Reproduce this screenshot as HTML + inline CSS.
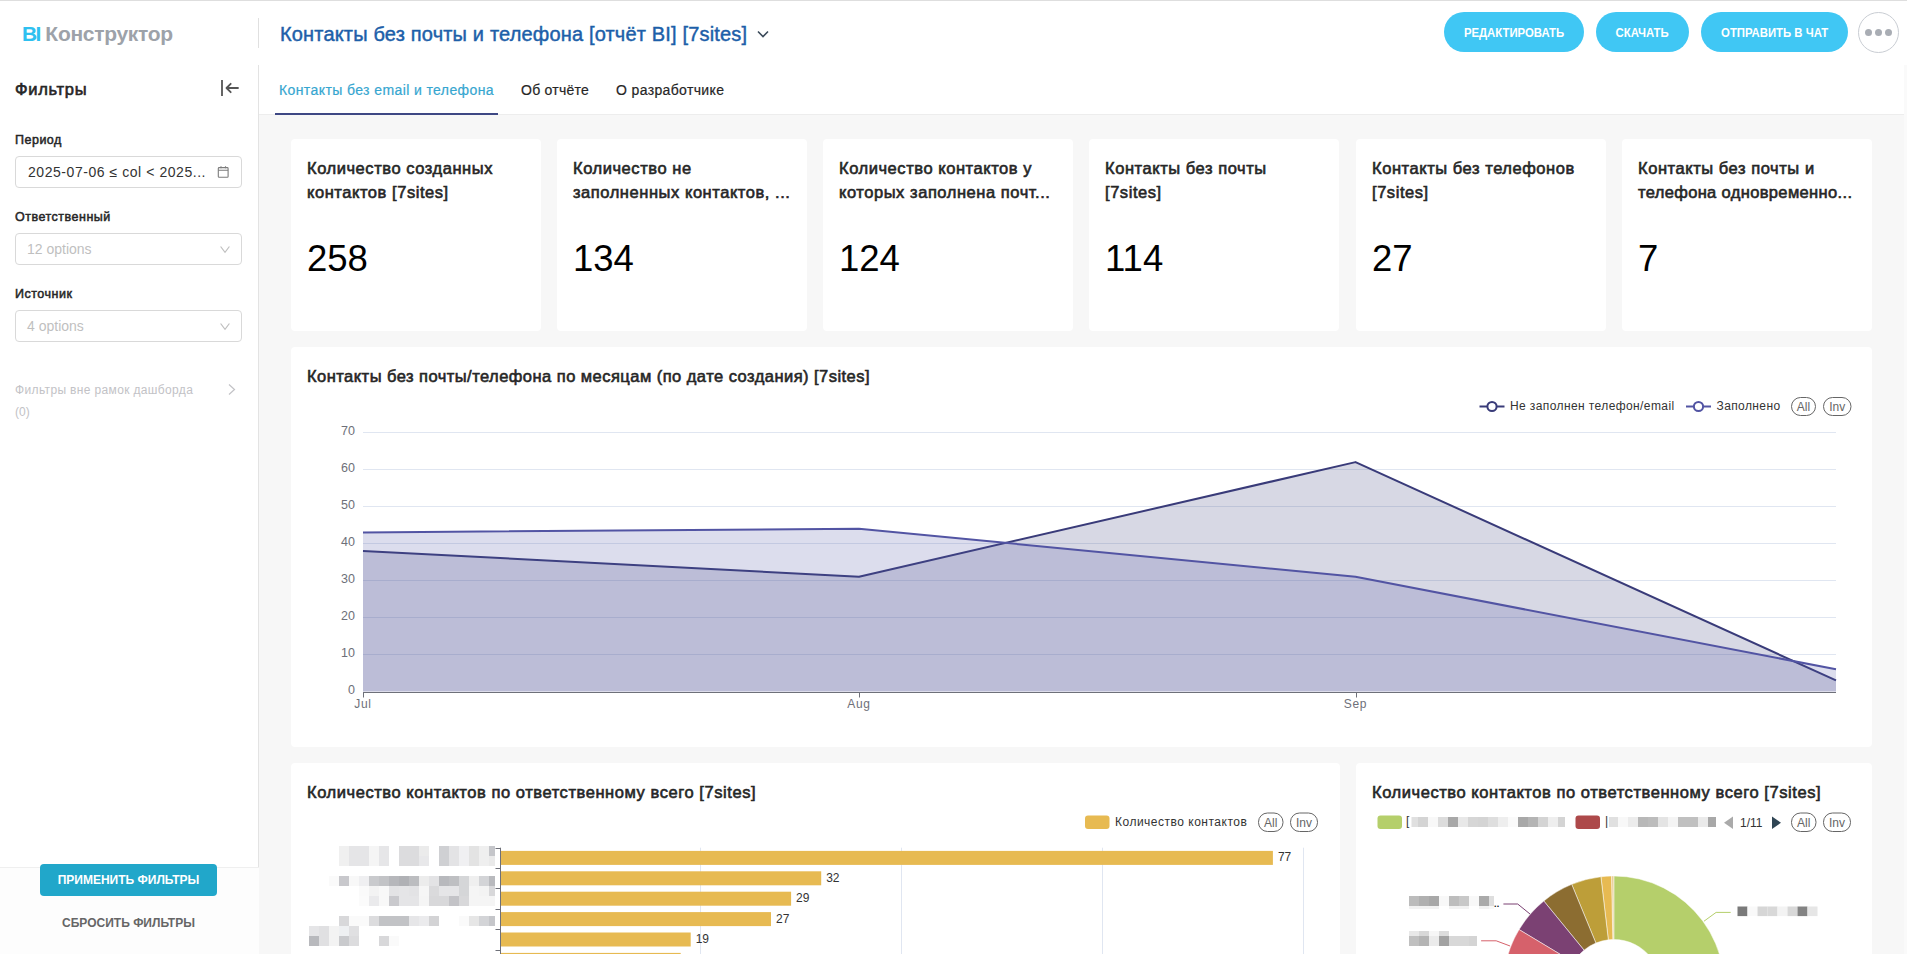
<!DOCTYPE html>
<html lang="ru">
<head>
<meta charset="utf-8">
<title>BI Конструктор</title>
<style>
*{box-sizing:border-box;margin:0;padding:0}
html,body{width:1907px;height:956px;overflow:hidden;background:#fff}
body{position:relative;font-family:"Liberation Sans","Noto Sans CJK SC",sans-serif;color:#1f1f1f}
.abs{position:absolute}
.t{position:absolute;white-space:nowrap;line-height:1}
#topline{left:0;top:0;width:1907px;height:1px;background:#dedede}
/* header */
.logo{left:22px;top:23px;font-size:21px;font-weight:700;letter-spacing:-0.3px}
.logo .bi{color:#2ec0f0;letter-spacing:-1.6px}
.logo .k{color:#9da2a9}
#hdiv{left:258px;top:18px;width:1px;height:30px;background:#e0e0e0}
.title{left:280px;top:24px;font-size:20px;color:#1d5fa9;letter-spacing:0.17px;-webkit-text-stroke:0.45px #1d5fa9}
.pill{position:absolute;top:12px;height:40px;border-radius:20px;background:#40c7f4;color:#fff;font-weight:700;font-size:12px;text-align:center;line-height:42px;letter-spacing:0}
.pill span{display:inline-block;transform:scaleX(0.945);transform-origin:50% 50%}
#more{left:1858px;top:12px;width:41px;height:41px;border:1px solid #c9cdd3;border-radius:50%}
#more i{position:absolute;top:16px;width:7px;height:7px;border-radius:50%;background:#a9adb4}
/* sidebar */
#side{left:0;top:65px;width:259px;height:891px;border-right:1px solid #e3e3e3;background:#fff}
.lbl{font-size:12.5px;font-weight:400;color:#262626;-webkit-text-stroke:0.5px #262626;letter-spacing:0.5px}
.box{position:absolute;left:15px;width:227px;height:32px;border:1px solid #d9d9d9;border-radius:4px;background:#fff}
/* main */
#tabs{left:259px;top:65px;width:1645px;height:49px;background:#fff}
#content{left:259px;top:114px;width:1645px;height:842px;background:#f7f7f7;border-top:1px solid #ededed}
#scroll{left:1904px;top:65px;width:3px;height:891px;background:#fafafa}
.card{position:absolute;background:#fff;border-radius:4px}
.kt{position:absolute;left:16px;top:17px;font-size:16.5px;line-height:24px;color:#262626;font-weight:400;-webkit-text-stroke:0.6px #262626;letter-spacing:0.55px;white-space:nowrap}
.kv{position:absolute;left:16px;top:102px;font-size:36.5px;line-height:1;color:#000;white-space:nowrap}
.ct{position:absolute;left:16px;font-size:16.5px;font-weight:400;color:#262626;-webkit-text-stroke:0.6px #262626;letter-spacing:0.3px;white-space:nowrap;line-height:1}
svg text{font-family:"Liberation Sans","Noto Sans CJK SC",sans-serif}
</style>
</head>
<body>
<div class="abs" id="topline"></div>

<!-- HEADER -->
<div class="t logo"><span class="bi">BI</span> <span class="k">Конструктор</span></div>
<div class="abs" id="hdiv"></div>
<div class="t title">Контакты без почты и телефона [отчёт BI] [7sites]</div>
<svg class="abs" style="left:756px;top:28px" width="14" height="12" viewBox="0 0 14 12"><path d="M2 3.5 L7 8.5 L12 3.5" fill="none" stroke="#3b4a5a" stroke-width="1.6"/></svg>
<div class="pill" style="left:1444px;width:140px"><span>РЕДАКТИРОВАТЬ</span></div>
<div class="pill" style="left:1596px;width:93px"><span>СКАЧАТЬ</span></div>
<div class="pill" style="left:1701px;width:147px"><span>ОТПРАВИТЬ В ЧАТ</span></div>
<div class="abs" id="more"><i style="left:6px"></i><i style="left:16px"></i><i style="left:25.7px"></i></div>

<!-- SIDEBAR -->
<div class="abs" id="side"></div>
<div class="t" style="left:15px;top:80.5px;font-size:16.5px;font-weight:400;color:#262626;-webkit-text-stroke:0.6px #262626;letter-spacing:0.7px">Фильтры</div>
<svg class="abs" style="left:219px;top:79px" width="22" height="18" viewBox="0 0 22 18"><path d="M3 1 V17" stroke="#555" stroke-width="1.8" fill="none"/><path d="M19 9 H7.8 M11.7 4.8 L7.5 9 L11.7 13.2" stroke="#555" stroke-width="1.8" fill="none" stroke-linejoin="round" stroke-linecap="round"/></svg>

<div class="t lbl" style="left:15px;top:133.5px">Период</div>
<div class="box" style="top:156px"></div>
<div class="t" style="left:28px;top:165px;font-size:14px;color:#333;letter-spacing:0.55px">2025-07-06 ≤ col &lt; 2025...</div>
<svg class="abs" style="left:216px;top:165px" width="14" height="14" viewBox="0 0 14 14"><rect x="2.3" y="2.6" width="9.8" height="9.6" rx="0.8" fill="none" stroke="#7c7c7c" stroke-width="1.1"/><path d="M2.3 5.3 H12.1 M5 1.3 V3.3 M9.5 1.3 V3.3" stroke="#7c7c7c" stroke-width="1.1"/></svg>

<div class="t lbl" style="left:15px;top:210.5px">Ответственный</div>
<div class="box" style="top:233px"></div>
<div class="t" style="left:27px;top:242px;font-size:14px;color:#bfbfbf">12 options</div>
<svg class="abs" style="left:219px;top:245px" width="12" height="9" viewBox="0 0 12 9"><path d="M1.6 1.5 L6 7.3 L10.4 1.5" fill="none" stroke="#bfbfbf" stroke-width="1.2"/></svg>

<div class="t lbl" style="left:15px;top:287.5px">Источник</div>
<div class="box" style="top:310px"></div>
<div class="t" style="left:27px;top:319px;font-size:14px;color:#bfbfbf">4 options</div>
<svg class="abs" style="left:219px;top:322px" width="12" height="9" viewBox="0 0 12 9"><path d="M1.6 1.5 L6 7.3 L10.4 1.5" fill="none" stroke="#bfbfbf" stroke-width="1.2"/></svg>

<div class="t" style="left:15px;top:384px;font-size:12px;color:#c2c2c6;letter-spacing:0.35px">Фильтры вне рамок дашборда</div>
<div class="t" style="left:15px;top:406px;font-size:12px;color:#c2c2c6">(0)</div>
<svg class="abs" style="left:227px;top:383px" width="10" height="13" viewBox="0 0 10 13"><path d="M2 1.5 L7.5 6.5 L2 11.5" fill="none" stroke="#c2c2c6" stroke-width="1.2"/></svg>

<div class="abs" style="left:0;top:867px;width:259px;height:89px;background:#fdfdfd;border-top:1px solid #efefef"></div>
<div class="abs" style="left:40px;top:864px;width:177px;height:32px;border-radius:4px;background:#21a7ca"></div>
<div class="t" style="left:40px;top:874px;width:177px;text-align:center;font-size:12px;font-weight:700;color:#fff">ПРИМЕНИТЬ ФИЛЬТРЫ</div>
<div class="t" style="left:40px;top:917px;width:177px;text-align:center;font-size:12px;font-weight:700;color:#666">СБРОСИТЬ ФИЛЬТРЫ</div>

<!-- TABS -->
<div class="abs" id="tabs"></div>
<div class="t" style="left:279px;top:83px;font-size:14px;color:#36a6d0;letter-spacing:0.4px;-webkit-text-stroke:0.2px #36a6d0">Контакты без email и телефона</div>
<div class="t" style="left:521px;top:83px;font-size:14px;color:#262626;letter-spacing:0.25px;-webkit-text-stroke:0.2px #262626">Об отчёте</div>
<div class="t" style="left:616px;top:83px;font-size:14px;color:#262626;letter-spacing:0.36px;-webkit-text-stroke:0.2px #262626">О разработчике</div>

<!-- CONTENT -->
<div class="abs" id="content"></div>
<div class="abs" id="scroll"></div>
<div class="abs" style="left:275px;top:113px;width:223px;height:2px;background:#3e4884"></div>

<!-- KPI -->
<div class="card" style="left:291px;top:139px;width:250px;height:192px"><div class="kt">Количество созданных<br>контактов [7sites]</div><div class="kv">258</div></div>
<div class="card" style="left:557px;top:139px;width:250px;height:192px"><div class="kt">Количество не<br>заполненных контактов, ...</div><div class="kv">134</div></div>
<div class="card" style="left:823px;top:139px;width:250px;height:192px"><div class="kt">Количество контактов у<br>которых заполнена почт...</div><div class="kv">124</div></div>
<div class="card" style="left:1089px;top:139px;width:250px;height:192px"><div class="kt">Контакты без почты<br>[7sites]</div><div class="kv">114</div></div>
<div class="card" style="left:1356px;top:139px;width:250px;height:192px"><div class="kt">Контакты без телефонов<br>[7sites]</div><div class="kv">27</div></div>
<div class="card" style="left:1622px;top:139px;width:250px;height:192px"><div class="kt">Контакты без почты и<br><span style="letter-spacing:0.35px">телефона одновременно...</span></div><div class="kv">7</div></div>

<!-- LINE CHART CARD -->
<div class="card" style="left:291px;top:347px;width:1581px;height:400px">
  <div class="ct" style="top:21px;letter-spacing:0.46px">Контакты без почты/телефона по месяцам (по дате создания) [7sites]</div>
</div>
<svg class="abs" style="left:291px;top:347px" width="1580" height="400" viewBox="291 347 1580 400">
<text x="355" y="693.7" text-anchor="end" font-size="12.5" fill="#6E7079">0</text>
<line x1="363" x2="1836" y1="654.5" y2="654.5" stroke="#E0E6F1" stroke-width="1"/>
<text x="355" y="656.7" text-anchor="end" font-size="12.5" fill="#6E7079">10</text>
<line x1="363" x2="1836" y1="617.5" y2="617.5" stroke="#E0E6F1" stroke-width="1"/>
<text x="355" y="619.7" text-anchor="end" font-size="12.5" fill="#6E7079">20</text>
<line x1="363" x2="1836" y1="580.5" y2="580.5" stroke="#E0E6F1" stroke-width="1"/>
<text x="355" y="582.7" text-anchor="end" font-size="12.5" fill="#6E7079">30</text>
<line x1="363" x2="1836" y1="543.5" y2="543.5" stroke="#E0E6F1" stroke-width="1"/>
<text x="355" y="545.7" text-anchor="end" font-size="12.5" fill="#6E7079">40</text>
<line x1="363" x2="1836" y1="506.5" y2="506.5" stroke="#E0E6F1" stroke-width="1"/>
<text x="355" y="508.7" text-anchor="end" font-size="12.5" fill="#6E7079">50</text>
<line x1="363" x2="1836" y1="469.5" y2="469.5" stroke="#E0E6F1" stroke-width="1"/>
<text x="355" y="471.7" text-anchor="end" font-size="12.5" fill="#6E7079">60</text>
<line x1="363" x2="1836" y1="432.5" y2="432.5" stroke="#E0E6F1" stroke-width="1"/>
<text x="355" y="434.7" text-anchor="end" font-size="12.5" fill="#6E7079">70</text>
<polygon points="363,691.5 363,550.9 859,576.8 1355.5,462.1 1836,680.4 1836,691.5" fill="#393b79" fill-opacity="0.2"/>
<polyline points="363,550.9 859,576.8 1355.5,462.1 1836,680.4" fill="none" stroke="#393b79" stroke-width="2" stroke-linejoin="round"/>
<polygon points="363,691.5 363,532.4 859,528.7 1355.5,576.8 1836,669.3 1836,691.5" fill="#5254a3" fill-opacity="0.2"/>
<polyline points="363,532.4 859,528.7 1355.5,576.8 1836,669.3" fill="none" stroke="#5254a3" stroke-width="2" stroke-linejoin="round"/>
<line x1="363" x2="1836" y1="692.5" y2="692.5" stroke="#6E7079" stroke-width="1"/>
<line x1="363.5" x2="363.5" y1="692.5" y2="697.5" stroke="#6E7079" stroke-width="1"/>
<text x="363" y="708" text-anchor="middle" font-size="12" letter-spacing="0.7" fill="#6E7079">Jul</text>
<line x1="859.5" x2="859.5" y1="692.5" y2="697.5" stroke="#6E7079" stroke-width="1"/>
<text x="859" y="708" text-anchor="middle" font-size="12" letter-spacing="0.7" fill="#6E7079">Aug</text>
<line x1="1356.5" x2="1356.5" y1="692.5" y2="697.5" stroke="#6E7079" stroke-width="1"/>
<text x="1355.5" y="708" text-anchor="middle" font-size="12" letter-spacing="0.7" fill="#6E7079">Sep</text>
<line x1="1479.5" x2="1504.5" y1="406.5" y2="406.5" stroke="#393b79" stroke-width="2"/>
<circle cx="1492" cy="406.5" r="4.6" fill="#fff" stroke="#393b79" stroke-width="2"/>
<text x="1510" y="409.8" font-size="12" letter-spacing="0.4" fill="#333">Не заполнен телефон/email</text>
<line x1="1686.0" x2="1711.0" y1="406.5" y2="406.5" stroke="#5254a3" stroke-width="2"/>
<circle cx="1698.5" cy="406.5" r="4.6" fill="#fff" stroke="#5254a3" stroke-width="2"/>
<text x="1716.5" y="409.8" font-size="12" letter-spacing="0.4" fill="#333">Заполнено</text>
<rect x="1791.5" y="397.5" width="24" height="18" rx="9" fill="#fff" stroke="#666" stroke-width="1"/>
<text x="1803.5" y="410.5" text-anchor="middle" font-size="12" fill="#666">All</text>
<rect x="1823.5" y="397.5" width="27.5" height="18" rx="9" fill="#fff" stroke="#666" stroke-width="1"/>
<text x="1837.25" y="410.5" text-anchor="middle" font-size="12" fill="#666">Inv</text>
</svg>

<!-- BOTTOM CARDS -->
<div class="card" style="left:291px;top:763px;width:1049px;height:200px">
  <div class="ct" style="top:20.5px;letter-spacing:0.56px">Количество контактов по ответственному всего [7sites]</div>
</div>
<svg class="abs" style="left:291px;top:763px" width="1049" height="193" viewBox="291 763 1049 193">
<line x1="700.5" x2="700.5" y1="847.7" y2="960" stroke="#E0E6F1" stroke-width="1"/>
<line x1="901.5" x2="901.5" y1="847.7" y2="960" stroke="#E0E6F1" stroke-width="1"/>
<line x1="1102.5" x2="1102.5" y1="847.7" y2="960" stroke="#E0E6F1" stroke-width="1"/>
<line x1="1303.5" x2="1303.5" y1="847.7" y2="960" stroke="#E0E6F1" stroke-width="1"/>
<rect x="500" y="850.9" width="772.9" height="14" fill="#e7ba52"/>
<text x="1277.9" y="861.3" font-size="12" fill="#333">77</text>
<rect x="500" y="871.3" width="321.2" height="14" fill="#e7ba52"/>
<text x="826.2" y="881.7" font-size="12" fill="#333">32</text>
<rect x="500" y="891.7" width="291.1" height="14" fill="#e7ba52"/>
<text x="796.1" y="902.1" font-size="12" fill="#333">29</text>
<rect x="500" y="912.1" width="271.0" height="14" fill="#e7ba52"/>
<text x="776.0" y="922.5" font-size="12" fill="#333">27</text>
<rect x="500" y="932.5" width="190.7" height="14" fill="#e7ba52"/>
<text x="695.7" y="942.9" font-size="12" fill="#333">19</text>
<rect x="500" y="952.9" width="180.7" height="14" fill="#e7ba52"/>
<line x1="500.5" x2="500.5" y1="847.7" y2="960" stroke="#6E7079" stroke-width="1"/>
<line x1="495.5" x2="500.5" y1="848.5" y2="848.5" stroke="#6E7079" stroke-width="1"/>
<line x1="495.5" x2="500.5" y1="868.5" y2="868.5" stroke="#6E7079" stroke-width="1"/>
<line x1="495.5" x2="500.5" y1="888.5" y2="888.5" stroke="#6E7079" stroke-width="1"/>
<line x1="495.5" x2="500.5" y1="909.5" y2="909.5" stroke="#6E7079" stroke-width="1"/>
<line x1="495.5" x2="500.5" y1="929.5" y2="929.5" stroke="#6E7079" stroke-width="1"/>
<line x1="495.5" x2="500.5" y1="950.5" y2="950.5" stroke="#6E7079" stroke-width="1"/>
<line x1="495.5" x2="500.5" y1="970.5" y2="970.5" stroke="#6E7079" stroke-width="1"/>
<rect x="1085" y="815.5" width="24.5" height="13.5" rx="3" fill="#e7ba52"/>
<text x="1115" y="826" font-size="12" letter-spacing="0.5" fill="#333">Количество контактов</text>
<rect x="1258.5" y="813" width="24.5" height="18.5" rx="9" fill="#fff" stroke="#666" stroke-width="1"/>
<text x="1270.75" y="826.5" text-anchor="middle" font-size="12" fill="#666">All</text>
<rect x="1290.5" y="813" width="27" height="18.5" rx="9" fill="#fff" stroke="#666" stroke-width="1"/>
<text x="1304.0" y="826.5" text-anchor="middle" font-size="12" fill="#666">Inv</text>
<rect x="339" y="846" width="10" height="10" fill="#f0f0f0"/>
<rect x="349" y="846" width="10" height="10" fill="#e5e5e7"/>
<rect x="359" y="846" width="10" height="10" fill="#e5e5e7"/>
<rect x="369" y="846" width="10" height="10" fill="#f5f5f5"/>
<rect x="379" y="846" width="10" height="10" fill="#e6e6e8"/>
<rect x="399" y="846" width="10" height="10" fill="#dcdcde"/>
<rect x="409" y="846" width="10" height="10" fill="#dcdcde"/>
<rect x="419" y="846" width="10" height="10" fill="#ebebeb"/>
<rect x="439" y="846" width="10" height="10" fill="#cfd0d3"/>
<rect x="449" y="846" width="10" height="10" fill="#e3e3e5"/>
<rect x="459" y="846" width="10" height="10" fill="#f0f0f2"/>
<rect x="469" y="846" width="10" height="10" fill="#e3e3e3"/>
<rect x="479" y="846" width="10" height="10" fill="#efefef"/>
<rect x="489" y="846" width="6" height="10" fill="#c5c6ca"/>
<rect x="339" y="856" width="10" height="10" fill="#f0f0f0"/>
<rect x="349" y="856" width="10" height="10" fill="#e5e5e7"/>
<rect x="359" y="856" width="10" height="10" fill="#e5e5e7"/>
<rect x="369" y="856" width="10" height="10" fill="#f5f5f5"/>
<rect x="379" y="856" width="10" height="10" fill="#e6e6e8"/>
<rect x="399" y="856" width="10" height="10" fill="#dcdcde"/>
<rect x="409" y="856" width="10" height="10" fill="#dcdcde"/>
<rect x="419" y="856" width="10" height="10" fill="#e8e8ea"/>
<rect x="439" y="856" width="10" height="10" fill="#cfd0d3"/>
<rect x="449" y="856" width="10" height="10" fill="#e3e3e5"/>
<rect x="459" y="856" width="10" height="10" fill="#f0f0f2"/>
<rect x="469" y="856" width="10" height="10" fill="#e3e3e3"/>
<rect x="479" y="856" width="10" height="10" fill="#efefef"/>
<rect x="489" y="856" width="6" height="10" fill="#eaeaea"/>
<rect x="329" y="876" width="10" height="10" fill="#fafafa"/>
<rect x="339" y="876" width="10" height="10" fill="#c8c8cc"/>
<rect x="349" y="876" width="10" height="10" fill="#f8f8f8"/>
<rect x="359" y="876" width="10" height="10" fill="#efeff1"/>
<rect x="369" y="876" width="10" height="10" fill="#c9cacd"/>
<rect x="379" y="876" width="10" height="10" fill="#c2c3c6"/>
<rect x="389" y="876" width="10" height="10" fill="#b6b7bb"/>
<rect x="399" y="876" width="10" height="10" fill="#b0b1b5"/>
<rect x="409" y="876" width="10" height="10" fill="#bcbdc0"/>
<rect x="419" y="876" width="10" height="10" fill="#ececec"/>
<rect x="429" y="876" width="10" height="10" fill="#e3e3e5"/>
<rect x="439" y="876" width="10" height="10" fill="#b8b9bd"/>
<rect x="449" y="876" width="10" height="10" fill="#bebfc2"/>
<rect x="459" y="876" width="10" height="10" fill="#d5d6d8"/>
<rect x="469" y="876" width="10" height="10" fill="#efefef"/>
<rect x="479" y="876" width="10" height="10" fill="#d3d4d7"/>
<rect x="489" y="876" width="6" height="10" fill="#b9babe"/>
<rect x="359" y="886" width="10" height="10" fill="#fafafa"/>
<rect x="369" y="886" width="10" height="10" fill="#f3f3f3"/>
<rect x="379" y="886" width="10" height="10" fill="#f8f8f8"/>
<rect x="389" y="886" width="10" height="10" fill="#e3e3e5"/>
<rect x="399" y="886" width="10" height="10" fill="#e5e5e7"/>
<rect x="409" y="886" width="10" height="10" fill="#e3e3e5"/>
<rect x="419" y="886" width="10" height="10" fill="#f6f6f6"/>
<rect x="429" y="886" width="10" height="10" fill="#dadadc"/>
<rect x="439" y="886" width="10" height="10" fill="#e5e5e7"/>
<rect x="449" y="886" width="10" height="10" fill="#e5e5e7"/>
<rect x="459" y="886" width="10" height="10" fill="#d5d6d8"/>
<rect x="469" y="886" width="10" height="10" fill="#f5f5f5"/>
<rect x="479" y="886" width="10" height="10" fill="#f3f3f3"/>
<rect x="489" y="886" width="6" height="10" fill="#d8d8da"/>
<rect x="359" y="896" width="10" height="10" fill="#fbfbfb"/>
<rect x="369" y="896" width="10" height="10" fill="#eaeaec"/>
<rect x="379" y="896" width="10" height="10" fill="#f8f8f8"/>
<rect x="389" y="896" width="10" height="10" fill="#c9c9cd"/>
<rect x="399" y="896" width="10" height="10" fill="#e5e5e7"/>
<rect x="409" y="896" width="10" height="10" fill="#e5e5e7"/>
<rect x="419" y="896" width="10" height="10" fill="#f5f5f5"/>
<rect x="429" y="896" width="10" height="10" fill="#d8d8da"/>
<rect x="439" y="896" width="10" height="10" fill="#d8d8da"/>
<rect x="449" y="896" width="10" height="10" fill="#c3c3c7"/>
<rect x="459" y="896" width="10" height="10" fill="#d8d8da"/>
<rect x="469" y="896" width="10" height="10" fill="#f5f5f5"/>
<rect x="479" y="896" width="10" height="10" fill="#f5f5f5"/>
<rect x="489" y="896" width="6" height="10" fill="#f5f5f5"/>
<rect x="339" y="916" width="10" height="10" fill="#d8d8da"/>
<rect x="349" y="916" width="10" height="10" fill="#fafafa"/>
<rect x="359" y="916" width="10" height="10" fill="#fafafa"/>
<rect x="369" y="916" width="10" height="10" fill="#dcdcde"/>
<rect x="379" y="916" width="10" height="10" fill="#c2c3c6"/>
<rect x="389" y="916" width="10" height="10" fill="#c2c3c6"/>
<rect x="399" y="916" width="10" height="10" fill="#c2c3c6"/>
<rect x="409" y="916" width="10" height="10" fill="#e6e6e8"/>
<rect x="419" y="916" width="10" height="10" fill="#ebebed"/>
<rect x="429" y="916" width="10" height="10" fill="#d3d3d5"/>
<rect x="459" y="916" width="10" height="10" fill="#fafafa"/>
<rect x="469" y="916" width="10" height="10" fill="#e6e6e6"/>
<rect x="479" y="916" width="10" height="10" fill="#d3d4d7"/>
<rect x="489" y="916" width="6" height="10" fill="#c5c6ca"/>
<rect x="309" y="926" width="10" height="10" fill="#e5e5e7"/>
<rect x="319" y="926" width="10" height="10" fill="#e0e0e2"/>
<rect x="329" y="926" width="10" height="10" fill="#f3f3f3"/>
<rect x="339" y="926" width="10" height="10" fill="#eef0f2"/>
<rect x="349" y="926" width="10" height="10" fill="#e0e0e2"/>
<rect x="309" y="936" width="10" height="10" fill="#b8b9bd"/>
<rect x="319" y="936" width="10" height="10" fill="#e0e0e2"/>
<rect x="329" y="936" width="10" height="10" fill="#f3f3f3"/>
<rect x="339" y="936" width="10" height="10" fill="#c9cacd"/>
<rect x="349" y="936" width="10" height="10" fill="#dcdcde"/>
<rect x="379" y="936" width="10" height="10" fill="#d8d8da"/>
<rect x="389" y="936" width="10" height="10" fill="#fafafa"/>
</svg>
<div class="card" style="left:1356px;top:763px;width:516px;height:200px">
  <div class="ct" style="top:20.5px;letter-spacing:0.56px">Количество контактов по ответственному всего [7sites]</div>
</div>

<svg class="abs" style="left:1356px;top:763px" width="515" height="193" viewBox="1356 763 515 193">
<path d="M1613.80,876.00 A110.5,110.5 0 0 1 1719.24,1019.54 L1658.65,1000.55 A47,47 0 0 0 1613.80,939.50 Z" fill="#b5cf6b" stroke="#fff" stroke-width="0.5" stroke-linejoin="round"/>
<path d="M1611.49,876.02 A110.5,110.5 0 0 1 1613.80,876.00 L1613.80,939.50 A47,47 0 0 0 1612.82,939.51 Z" fill="#e7cb94" stroke="#fff" stroke-width="0.5" stroke-linejoin="round"/>
<path d="M1600.91,876.75 A110.5,110.5 0 0 1 1611.49,876.02 L1612.82,939.51 A47,47 0 0 0 1608.32,939.82 Z" fill="#e7ba52" stroke="#fff" stroke-width="0.5" stroke-linejoin="round"/>
<path d="M1571.69,884.34 A110.5,110.5 0 0 1 1600.91,876.75 L1608.32,939.82 A47,47 0 0 0 1595.89,943.05 Z" fill="#bd9e39" stroke="#fff" stroke-width="0.5" stroke-linejoin="round"/>
<path d="M1543.81,900.99 A110.5,110.5 0 0 1 1571.69,884.34 L1595.89,943.05 A47,47 0 0 0 1584.03,950.13 Z" fill="#8c6d31" stroke="#fff" stroke-width="0.5" stroke-linejoin="round"/>
<path d="M1519.08,929.59 A110.5,110.5 0 0 1 1543.81,900.99 L1584.03,950.13 A47,47 0 0 0 1573.51,962.29 Z" fill="#7b4173" stroke="#fff" stroke-width="0.5" stroke-linejoin="round"/>
<path d="M1504.98,967.31 A110.5,110.5 0 0 1 1519.08,929.59 L1573.51,962.29 A47,47 0 0 0 1567.51,978.34 Z" fill="#d6616b" stroke="#fff" stroke-width="0.5" stroke-linejoin="round"/>
<path d="M1504.98,1005.69 A110.5,110.5 0 0 1 1504.98,967.31 L1567.51,978.34 A47,47 0 0 0 1567.51,994.66 Z" fill="#ce6dbd" stroke="#fff" stroke-width="0.5" stroke-linejoin="round"/>
<polyline points="1530,914 1517.7,904 1503.4,904" fill="none" stroke="#7b4173" stroke-width="1"/>
<polyline points="1510.1,946 1496.2,940.8 1481.1,940.8" fill="none" stroke="#d6616b" stroke-width="1"/>
<polyline points="1704,921.2 1716.1,912.4 1730.7,912.4" fill="none" stroke="#b5cf6b" stroke-width="1"/>
<rect x="1377.5" y="815.5" width="24.5" height="13.5" rx="3" fill="#b5cf6b"/>
<rect x="1575.5" y="815.5" width="24.5" height="13.5" rx="3" fill="#ad494a"/>
<text x="1406" y="825.3" font-size="12" fill="#333">[</text>
<text x="1605" y="825.3" font-size="12" fill="#333">|</text>
<path d="M1733,816.5 L1724,822.8 L1733,829 Z" fill="#aaa"/>
<text x="1740" y="827" font-size="12" fill="#333">1/11</text>
<path d="M1772,816.5 L1781,822.8 L1772,829 Z" fill="#2f4554"/>
<rect x="1791.5" y="813" width="24.5" height="18.5" rx="9" fill="#fff" stroke="#666" stroke-width="1"/>
<text x="1803.75" y="826.5" text-anchor="middle" font-size="12" fill="#666">All</text>
<rect x="1823.5" y="813" width="27" height="18.5" rx="9" fill="#fff" stroke="#666" stroke-width="1"/>
<text x="1837.0" y="826.5" text-anchor="middle" font-size="12" fill="#666">Inv</text>
<rect x="1411.5" y="817" width="6.5" height="10" fill="#e0e0e0"/>
<rect x="1418" y="817" width="10" height="10" fill="#d4d4d4"/>
<rect x="1428" y="817" width="10" height="10" fill="#f8f8f8"/>
<rect x="1438" y="817" width="10" height="10" fill="#dcdcdc"/>
<rect x="1448" y="817" width="10" height="10" fill="#a8a8a8"/>
<rect x="1458" y="817" width="10" height="10" fill="#e8e8e8"/>
<rect x="1468" y="817" width="10" height="10" fill="#d6d6d6"/>
<rect x="1478" y="817" width="10" height="10" fill="#d4d4d4"/>
<rect x="1488" y="817" width="10" height="10" fill="#dedede"/>
<rect x="1498" y="817" width="10" height="10" fill="#eeeeee"/>
<rect x="1508" y="817" width="10" height="10" fill="#fafafa"/>
<rect x="1518" y="817" width="10" height="10" fill="#a8a8a8"/>
<rect x="1528" y="817" width="10" height="10" fill="#b4b4b4"/>
<rect x="1538" y="817" width="10" height="10" fill="#d4d4d4"/>
<rect x="1548" y="817" width="10" height="10" fill="#eeeeee"/>
<rect x="1558" y="817" width="7" height="10" fill="#d4d4d4"/>
<rect x="1609" y="817" width="9" height="10" fill="#e0e0e0"/>
<rect x="1618" y="817" width="10" height="10" fill="#f8f8f8"/>
<rect x="1628" y="817" width="10" height="10" fill="#ececec"/>
<rect x="1638" y="817" width="10" height="10" fill="#b8b8b8"/>
<rect x="1648" y="817" width="10" height="10" fill="#bcbcbc"/>
<rect x="1658" y="817" width="10" height="10" fill="#e4e4e4"/>
<rect x="1668" y="817" width="10" height="10" fill="#f4f4f4"/>
<rect x="1678" y="817" width="10" height="10" fill="#c0c0c0"/>
<rect x="1688" y="817" width="10" height="10" fill="#c0c0c0"/>
<rect x="1698" y="817" width="10" height="10" fill="#eaeaea"/>
<rect x="1708" y="817" width="8" height="10" fill="#a8a8a8"/>
<rect x="1409" y="896" width="10" height="10" fill="#bcbcbc"/>
<rect x="1419" y="896" width="10" height="10" fill="#b0b0b0"/>
<rect x="1429" y="896" width="10" height="10" fill="#a8a8a8"/>
<rect x="1439" y="896" width="10" height="10" fill="#f8f8f8"/>
<rect x="1449" y="896" width="10" height="10" fill="#bdbdbd"/>
<rect x="1459" y="896" width="10" height="10" fill="#c8c8c8"/>
<rect x="1469" y="896" width="10" height="10" fill="#f8f8f8"/>
<rect x="1479" y="896" width="10" height="10" fill="#aaaaaa"/>
<rect x="1489" y="896" width="5" height="10" fill="#dedede"/>
<rect x="1409" y="906" width="10" height="3" fill="#f2f2f2"/>
<rect x="1419" y="906" width="10" height="3" fill="#f2f2f2"/>
<rect x="1429" y="906" width="10" height="3" fill="#f2f2f2"/>
<rect x="1449" y="906" width="10" height="3" fill="#f2f2f2"/>
<rect x="1459" y="906" width="10" height="3" fill="#f2f2f2"/>
<rect x="1479" y="906" width="10" height="3" fill="#f2f2f2"/>
<rect x="1489" y="906" width="5" height="3" fill="#f8f8f8"/>
<text x="1494" y="906.5" font-size="9" font-weight="700" fill="#111" letter-spacing="0.3">..</text>
<rect x="1409" y="931" width="10" height="5" fill="#e8e8e8"/>
<rect x="1419" y="931" width="10" height="5" fill="#d8d8d8"/>
<rect x="1429" y="931" width="10" height="5" fill="#f6f6f6"/>
<rect x="1439" y="931" width="10" height="5" fill="#dcdcdc"/>
<rect x="1409" y="936" width="10" height="10" fill="#c0c0c0"/>
<rect x="1419" y="936" width="10" height="10" fill="#b4b4b4"/>
<rect x="1429" y="936" width="10" height="10" fill="#ebebeb"/>
<rect x="1439" y="936" width="10" height="10" fill="#a2a2a2"/>
<rect x="1449" y="936" width="10" height="10" fill="#d8d8d8"/>
<rect x="1459" y="936" width="10" height="10" fill="#d8d8d8"/>
<rect x="1469" y="936" width="8" height="10" fill="#d4d4d4"/>
<rect x="1737.5" y="906.5" width="10.0" height="9.6" fill="#7a7a7a"/>
<rect x="1747.5" y="906.5" width="10.0" height="9.6" fill="#f9f9f9"/>
<rect x="1757.5" y="906.5" width="10.0" height="9.6" fill="#d6d6d6"/>
<rect x="1767.5" y="906.5" width="10.0" height="9.6" fill="#d8d8d8"/>
<rect x="1777.5" y="906.5" width="10.0" height="9.6" fill="#f3f3f3"/>
<rect x="1787.5" y="906.5" width="10.0" height="9.6" fill="#d8d8d8"/>
<rect x="1797.5" y="906.5" width="10.0" height="9.6" fill="#838383"/>
<rect x="1807.5" y="906.5" width="10.0" height="9.6" fill="#e6e6e6"/>
</svg>
<div class="abs" style="left:0;top:954px;width:1907px;height:2px;background:#fff"></div>
</body>
</html>
